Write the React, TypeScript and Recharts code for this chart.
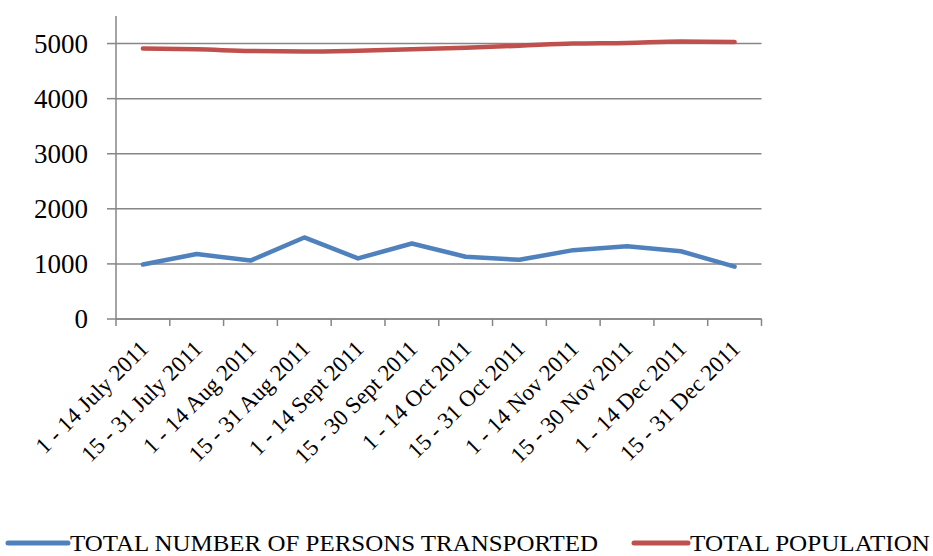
import { LineChart, Line, XAxis, YAxis, CartesianGrid } from 'recharts';

const periods = [
  '1 - 14 July 2011',
  '15 - 31 July 2011',
  '1 - 14 Aug 2011',
  '15 - 31 Aug 2011',
  '1 - 14 Sept 2011',
  '15 - 30 Sept 2011',
  '1 - 14 Oct 2011',
  '15 - 31 Oct 2011',
  '1 - 14 Nov 2011',
  '15 - 30 Nov 2011',
  '1 - 14 Dec 2011',
  '15 - 31 Dec 2011',
];

const transported = [990, 1180, 1060, 1480, 1100, 1370, 1130, 1075, 1250, 1320, 1230, 950];
const population = [4910, 4895, 4865, 4855, 4870, 4895, 4925, 4960, 5000, 5010, 5035, 5030];

const yTicks = [0, 1000, 2000, 3000, 4000, 5000];

const TRANSPORTED_LABEL = 'TOTAL NUMBER OF PERSONS TRANSPORTED';
const POPULATION_LABEL = 'TOTAL POPULATION';

const data = periods.map((period, i) => ({
  period,
  transported: transported[i],
  population: population[i],
}));

const FONT = '"Liberation Serif", "DejaVu Serif", serif';
const AXIS_GRAY = '#868686';
const BLUE = '#4F81BD';
const RED = '#C0504D';

const PLOT_LEFT = 116;
const PLOT_RIGHT = 761.5;
const PLOT_BOTTOM = 319;
const X_AXIS_HEIGHT = 150;
const BAND = (PLOT_RIGHT - PLOT_LEFT) / periods.length;

function PeriodTick(props: any) {
  const { x, y, payload, index } = props;
  const axisY = y - 8;
  const left = x - BAND / 2;
  const ax = x + 7;
  const ay = axisY + 31;
  return (
    <g>
      <line x1={left} y1={axisY} x2={left} y2={axisY + 7} stroke={AXIS_GRAY} strokeWidth={1.5} />
      {index === periods.length - 1 && (
        <line x1={x + BAND / 2} y1={axisY} x2={x + BAND / 2} y2={axisY + 7} stroke={AXIS_GRAY} strokeWidth={1.5} />
      )}
      <text
        x={ax}
        y={ay}
        textAnchor="end"
        transform={`rotate(-45, ${ax}, ${ay})`}
        fontFamily={FONT}
        fontSize={23}
        fill="#000"
      >
        {payload.value}
      </text>
    </g>
  );
}

function ValueTick(props: any) {
  const { x, y, payload } = props;
  return (
    <text x={x} y={y} dy={9} textAnchor="end" fontFamily={FONT} fontSize={27} fill="#000">
      {payload.value}
    </text>
  );
}

function ChartLegend() {
  return (
    <svg width={933} height={30} style={{ position: 'absolute', left: 0, top: 528 }}>
      <line x1={8} y1={15} x2={68} y2={15} stroke={BLUE} strokeWidth={5} strokeLinecap="round" />
      <text x={70} y={23} fontFamily={FONT} fontSize={24} textLength={528} lengthAdjust="spacingAndGlyphs" fill="#000">
        {TRANSPORTED_LABEL}
      </text>
      <line x1={634} y1={15} x2={688} y2={15} stroke={RED} strokeWidth={5} strokeLinecap="round" />
      <text x={690} y={23} fontFamily={FONT} fontSize={24} textLength={240} lengthAdjust="spacingAndGlyphs" fill="#000">
        {POPULATION_LABEL}
      </text>
    </svg>
  );
}

export default function App() {
  return (
    <div style={{ position: 'absolute', left: 0, top: 0, width: 933, height: 556, background: '#fff' }}>
      <LineChart
        width={933}
        height={556}
        data={data}
        margin={{ top: 16, right: 933 - PLOT_RIGHT, bottom: 556 - PLOT_BOTTOM - X_AXIS_HEIGHT, left: 0 }}
      >
        <CartesianGrid
          vertical={false}
          horizontal
          horizontalValues={yTicks}
          stroke={AXIS_GRAY}
          strokeWidth={1.5}
        />
        <XAxis
          dataKey="period"
          axisLine={{ stroke: AXIS_GRAY, strokeWidth: 1.5 }}
          tickLine={false}
          tickSize={6}
          tickMargin={2}
          interval={0}
          padding={{ left: BAND / 2, right: BAND / 2 }}
          tick={<PeriodTick />}
          height={X_AXIS_HEIGHT}
        />
        <YAxis
          domain={[0, 5500]}
          ticks={yTicks}
          width={PLOT_LEFT}
          axisLine={{ stroke: AXIS_GRAY, strokeWidth: 1.5 }}
          tickLine={{ stroke: AXIS_GRAY, strokeWidth: 1.5 }}
          tickSize={9}
          tickMargin={19}
          tick={<ValueTick />}
        />
        <Line
          type="linear"
          dataKey="transported"
          stroke={BLUE}
          strokeWidth={4.5}
          dot={false}
          strokeLinecap="round"
          strokeLinejoin="round"
          isAnimationActive={false}
        />
        <Line
          type="monotone"
          dataKey="population"
          stroke={RED}
          strokeWidth={4.5}
          dot={false}
          strokeLinecap="round"
          isAnimationActive={false}
        />
      </LineChart>
      <ChartLegend />
    </div>
  );
}
